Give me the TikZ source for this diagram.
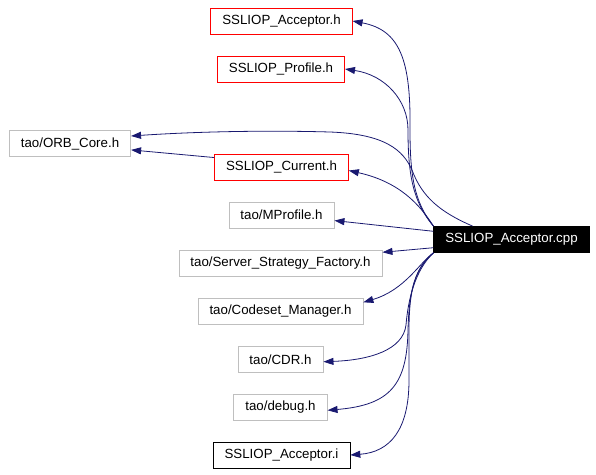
\documentclass[tikz,border=0pt]{standalone}
\usepackage{fontspec}
\setmainfont{Liberation Sans}
\usetikzlibrary{arrows.meta}
\definecolor{edgeblue}{RGB}{25,25,112}
\definecolor{grey75}{RGB}{191,191,191}

\begin{document}
\begin{tikzpicture}[x=1pt,y=-1pt,
            file/.style={draw,line width=0.8pt,minimum height=26pt,inner xsep=11.5pt,inner ysep=0pt,font=\fontsize{13.3}{16}\selectfont},
            hdr/.style={file,draw=red},
            ext/.style={file,draw=grey75},
            inl/.style={file,draw=black},
            src/.style={file,draw=black,fill=black,text=white},
            dep/.style={edgeblue,line width=0.8pt,-{Triangle[length=10pt,width=7pt]}}]
            \useasboundingbox (0,0) rectangle (596,474);
            \node[hdr] (acch)  at (281.5,21)  {SSLIOP\_Acceptor.h};
            \node[hdr] (prof)  at (281,69)    {SSLIOP\_Profile.h};
            \node[ext] (orb)   at (70,143.5)  {tao/ORB\_Core.h};
            \node[hdr] (cur)   at (281.5,167) {SSLIOP\_Current.h};
            \node[ext] (mprof) at (281.5,215) {tao/MProfile.h};
            \node[src] (cpp)   at (511.5,239.5) {SSLIOP\_Acceptor.cpp};
            \node[ext] (ssf)   at (280.5,263) {tao/Server\_Strategy\_Factory.h};
            \node[ext] (cset)  at (280.5,311) {tao/Codeset\_Manager.h};
            \node[ext] (cdr)   at (280.5,359.5) {tao/CDR.h};
            \node[ext] (dbg)   at (280.5,407) {tao/debug.h};
            \node[inl] (acci)  at (281.5,455) {SSLIOP\_Acceptor.i};

            \draw[dep] (cpp.north west) .. controls (414,202) and (410,175) .. (410,130)
                .. controls (411,60) and (400,30) .. (acch.east);
            \draw[dep] (cpp.north west) .. controls (413,202) and (408,175) .. (408,130)
                .. controls (408,100) and (385,75) .. (prof.east);
            \draw[dep] (cpp.161) .. controls (440,212) and (422,197) .. (412,170)
                .. controls (403,150) and (385,134) .. (330,132)
                .. controls (260,130) and (190,132) .. (orb.7);
            \draw[dep] (cur.172) -- (orb.-6);
            \draw[dep] (cpp.north west) .. controls (420,205) and (400,182) .. (cur.-3);
            \draw[dep] (cpp.174) -- (mprof.-6);
            \draw[dep] (cpp.186) -- (ssf.6);
            \draw[dep] (cpp.south west) .. controls (420,262) and (405,290) .. (cset.6);
            \draw[dep] (cpp.south west) .. controls (415,270) and (408,300) .. (406,325)
                .. controls (403,350) and (370,360) .. (cdr.-3);
            \draw[dep] (cpp.south west) .. controls (415,268) and (409,290) .. (408,330)
                .. controls (407,385) and (390,405) .. (dbg.-4);
            \draw[dep] (cpp.south west) .. controls (415,268) and (409,290) .. (409,330)
                -- (409,380) .. controls (409,430) and (390,452) .. (acci.east);
        \end{tikzpicture}
\end{document}
